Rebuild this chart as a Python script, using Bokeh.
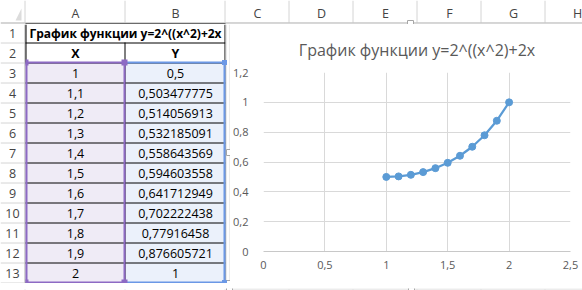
from bokeh.plotting import figure
from bokeh.models import Range1d, FixedTicker
from bokeh.layouts import column, row
from bokeh.core.properties import value
from bokeh.embed import file_html
from bokeh.resources import INLINE

# ---------------- data ----------------
title_text = "График функции y=2^((x^2)+2x"
col_headers = ["X", "Y"]
x_vals = [1, 1.1, 1.2, 1.3, 1.4, 1.5, 1.6, 1.7, 1.8, 1.9, 2]
y_vals = [0.5, 0.503477775, 0.514056913, 0.532185091, 0.558643569, 0.594603558,
          0.641712949, 0.702222438, 0.77916458, 0.876605721, 1]
col_letters = ["A", "B", "C", "D", "E", "F", "G", "H"]
x_ticks = [0, 0.5, 1, 1.5, 2, 2.5]
x_tick_labels = ["0", "0,5", "1", "1,5", "2", "2,5"]
y_ticks = [0, 0.2, 0.4, 0.6, 0.8, 1.0, 1.2]
y_tick_labels = ["0", "0,2", "0,4", "0,6", "0,8", "1", "1,2"]


def fmt(v):
    s = f"{v:.9f}".rstrip("0").rstrip(".")
    return s.replace(".", ",")


# ---------------- geometry / style ----------------
W, H = 582, 290
TOP_H, MID_H = 24, 259
BOT_H = H - TOP_H - MID_H
LEFT_W = 230
CHART_W = W - LEFT_W
ROWH = 20
ROW0 = 22                       # top of row 1 (pixels)
COL_EDGES = [25, 125, 225, 289, 353, 417, 481, 545, 609]
FONT = "Open Sans"
CELL_FS = "12.5px"
HDR_COLOR = "#444444"
GRID_XL = "#D4D4D4"
HDR_LINE = "#ABABAB"
CHART_LINE = "#D9D9D9"
PURPLE = "#8D6AC4"
BLUE = "#6B98E6"
LAV_FILL = "#EFEBF6"
BLUE_FILL = "#EBF1FB"
SERIES = "#5B9BD5"
LABEL_GRAY = "#595959"


def canvas(w, h, x0, y0):
    f = figure(width=w, height=h, x_range=Range1d(x0, x0 + w), y_range=Range1d(y0 + h, y0),
               output_backend="svg", toolbar_location=None, min_border=0,
               x_axis_location=None, y_axis_location=None, frame_align=False)
    f.grid.visible = False
    f.outline_line_color = None
    f.background_fill_color = "white"
    f.border_fill_color = "white"
    return f


def row_top(r):
    return ROW0 + ROWH * (r - 1)


def row_mid(r):
    return row_top(r) + ROWH / 2


n = len(x_vals)
first_data_row = 3
last_row = first_data_row + n - 1     # 13

# ---------------- top strip: column headers ----------------
top = canvas(W, TOP_H, 0, 0)
top.patch([15, 21, 21], [20, 20, 8], fill_color="#DCDCDC", line_color=None)
sep_x = [e - 0.5 for e in COL_EDGES]
top.segment(x0=sep_x, y0=[0] * len(sep_x), x1=sep_x, y1=[22] * len(sep_x),
            line_color=GRID_XL, line_width=1)
top.segment(x0=[0], y0=[22.5], x1=[W], y1=[22.5], line_color=HDR_LINE, line_width=1)
top.segment(x0=[25], y0=[23.5], x1=[225], y1=[23.5], line_color="black", line_width=1)
top.segment(x0=[229], y0=[23.5], x1=[W], y1=[23.5], line_color=CHART_LINE, line_width=1)
letter_x = [(COL_EDGES[i] + COL_EDGES[i + 1]) / 2 for i in range(len(col_letters))]
top.text(x=letter_x, y=[13] * len(letter_x), text=col_letters, text_font=value(FONT),
         text_font_size=CELL_FS, text_color=HDR_COLOR, text_align="center",
         text_baseline="middle")
top.quad(left=[407], right=[413], top=[20], bottom=[26], fill_color="white",
         line_color="#A6A6A6", line_width=1)

# ---------------- left: spreadsheet cells ----------------
left = canvas(LEFT_W, MID_H, 0, TOP_H)
ytop_data = row_top(first_data_row)
ybot_data = row_top(last_row + 1)
left.quad(left=[25], right=[125], top=[ytop_data], bottom=[ybot_data],
          fill_color=LAV_FILL, line_color=None)
left.quad(left=[125], right=[225], top=[ytop_data], bottom=[ybot_data],
          fill_color=BLUE_FILL, line_color=None)

# row header separators and numbers
bounds = [row_top(r) + 0.5 for r in range(2, last_row + 2)]
left.segment(x0=[0] * len(bounds), y0=bounds, x1=[24] * len(bounds), y1=bounds,
             line_color=GRID_XL, line_width=1)
left.segment(x0=[24.5], y0=[TOP_H], x1=[24.5], y1=[TOP_H + MID_H],
             line_color=HDR_LINE, line_width=1)
rows = list(range(1, last_row + 1))
left.text(x=[12] * len(rows), y=[row_mid(r) + 1 for r in rows], text=[str(r) for r in rows],
          text_font=value(FONT), text_font_size=CELL_FS, text_color=HDR_COLOR,
          text_align="center", text_baseline="middle")

# black table borders
left.segment(x0=[25] * len(bounds), y0=bounds, x1=[225] * len(bounds), y1=bounds,
             line_color="black", line_width=1)
left.segment(x0=[124.5, 224.5, 25.5], y0=[row_top(2), TOP_H, TOP_H],
             x1=[124.5, 224.5, 25.5], y1=[ybot_data + 1, ybot_data + 1, ytop_data],
             line_color="black", line_width=1)

# Excel gridline B|C and chart left border
left.segment(x0=[225.5], y0=[TOP_H], x1=[225.5], y1=[TOP_H + MID_H], line_color=GRID_XL)
left.segment(x0=[229.5], y0=[TOP_H], x1=[229.5], y1=[TOP_H + MID_H], line_color=CHART_LINE)
left.quad(left=[226, 226], right=[232, 232], top=[149, 280], bottom=[155, 286],
          fill_color="white", line_color="#A6A6A6", line_width=1)

# range highlight borders (blue values, purple x)
left.segment(x0=[125, 224, 125], y0=[ytop_data, ytop_data - 1, ybot_data],
             x1=[225, 224, 225], y1=[ytop_data, ybot_data + 1, ybot_data],
             line_color=BLUE, line_width=2)
left.quad(left=[26], right=[124], top=[ytop_data], bottom=[ybot_data],
          fill_color=None, line_color=PURPLE, line_width=2)
left.quad(left=[221.5, 221.5], right=[226.5, 226.5],
          top=[ytop_data - 2.5, ybot_data - 2.5], bottom=[ytop_data + 2.5, ybot_data + 2.5],
          fill_color=BLUE, line_color=None)
left.quad(left=[121, 121, 25, 25], right=[127, 127, 28, 28],
          top=[ytop_data - 3, ybot_data - 3, ytop_data - 3, ybot_data - 3],
          bottom=[ytop_data + 3, ybot_data + 3, ytop_data + 3, ybot_data + 3],
          fill_color=PURPLE, line_color=None)

# texts
left.text(x=[125], y=[row_mid(1) + 1], text=[title_text], text_font=value(FONT),
          text_font_size="12px", text_font_style="bold", text_color="black",
          text_align="center", text_baseline="middle")
left.text(x=[75, 175], y=[row_mid(2) + 1] * 2, text=col_headers, text_font=value(FONT),
          text_font_size=CELL_FS, text_font_style="bold", text_color="black",
          text_align="center", text_baseline="middle")
data_rows = list(range(first_data_row, last_row + 1))
left.text(x=[75] * n, y=[row_mid(r) + 1 for r in data_rows], text=[fmt(v) for v in x_vals],
          text_font=value(FONT), text_font_size=CELL_FS, text_color="black",
          text_align="center", text_baseline="middle")
left.text(x=[175] * n, y=[row_mid(r) + 1 for r in data_rows], text=[fmt(v) for v in y_vals],
          text_font=value(FONT), text_font_size=CELL_FS, text_color="black",
          text_align="center", text_baseline="middle")

# ---------------- chart ----------------
c = figure(width=CHART_W, height=MID_H, x_range=Range1d(0, 2.5), y_range=Range1d(0, 1.2),
           output_backend="svg", toolbar_location=None, title=title_text, frame_align=False,
           min_border_left=32, min_border_right=12, min_border_top=47, min_border_bottom=32)
c.title.text_font = FONT
c.title.text_font_size = "16px"
c.title.text_font_style = "normal"
c.title.text_color = LABEL_GRAY
c.title.align = "center"
c.title.offset = 2
c.title.standoff = 24
c.outline_line_color = None
c.background_fill_color = "white"
c.border_fill_color = "white"

c.xaxis.ticker = FixedTicker(ticks=x_ticks)
c.yaxis.ticker = FixedTicker(ticks=y_ticks)
c.xaxis.major_label_overrides = {float(t): l for t, l in zip(x_ticks, x_tick_labels)}
c.yaxis.major_label_overrides = {float(t): l for t, l in zip(y_ticks, y_tick_labels)}
for ax in (c.xaxis, c.yaxis):
    ax.major_tick_line_color = None
    ax.minor_tick_line_color = None
    ax.major_label_text_font = FONT
    ax.major_label_text_font_size = "11px"
    ax.major_label_text_color = LABEL_GRAY
c.xaxis.major_label_standoff = 3
c.yaxis.major_label_standoff = 9
c.xaxis.axis_line_color = "#C8C8C8"
c.yaxis.axis_line_color = None
c.xgrid.ticker = FixedTicker(ticks=x_ticks)
c.ygrid.ticker = FixedTicker(ticks=y_ticks)
c.grid.grid_line_color = CHART_LINE

c.line(x_vals, y_vals, line_color=SERIES, line_width=2.25)
c.scatter(x_vals, y_vals, marker="circle", size=7, fill_color=SERIES, line_color=SERIES)

# ---------------- bottom strip ----------------
bot = canvas(W, BOT_H, 0, TOP_H + MID_H)
y0b = TOP_H + MID_H
bot.segment(x0=[229], y0=[y0b + 0.5], x1=[W], y1=[y0b + 0.5], line_color=CHART_LINE)
vx = [24.5, 124.5, 224.5] + [e - 0.5 for e in COL_EDGES[3:]]
bot.segment(x0=vx, y0=[y0b + 1] * len(vx), x1=vx, y1=[H] * len(vx), line_color=GRID_XL)
bot.quad(left=[226, 408], right=[232, 414], top=[280, 280], bottom=[286, 286],
         fill_color="white", line_color="#A6A6A6", line_width=1)

layout = column(top, row(left, c), bot)
open("out.html", "w").write(file_html(layout, INLINE))
